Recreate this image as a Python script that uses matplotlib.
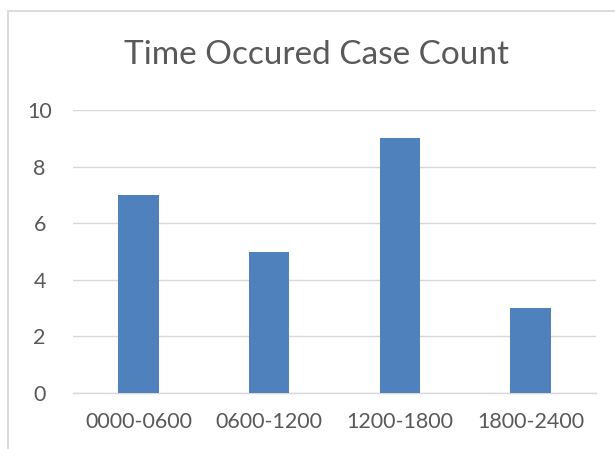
import matplotlib.pyplot as plt
from matplotlib.patches import Rectangle

categories = ["0000-0600", "0600-1200", "1200-1800", "1800-2400"]
counts = [7, 5, 9, 3]

plt.rcParams["font.family"] = ["Lato", "DejaVu Sans"]

fig = plt.figure(figsize=(6.15, 4.49), dpi=100)
W, H = 615, 449

# chart border (right/bottom edges run off the image)
fig.patches.append(Rectangle((8 / W, -0.1), 1.2, 1 - 11 / H + 0.1,
                             transform=fig.transFigure, fill=False,
                             edgecolor="#D9D9D9", linewidth=1.3))

ax = fig.add_axes([73 / W, 1 - 393 / H, (596 - 73) / W, (393 - 110) / H])
x = range(len(categories))
ax.bar(x, counts, width=0.31, color="#4F81BD", zorder=3)

ax.set_xlim(-0.5, 3.5)
ax.set_ylim(0, 10)
ax.set_yticks(range(0, 11, 2))
ax.set_xticks(list(x))
ax.set_xticklabels(categories)
ax.yaxis.grid(True, color="#D9D9D9", linewidth=1)
for s in ["top", "right", "left"]:
    ax.spines[s].set_visible(False)
ax.spines["bottom"].set_color("#D9D9D9")
ax.spines["bottom"].set_linewidth(1)
ax.tick_params(axis="both", length=0, colors="#595959", labelsize=15.5)
ax.tick_params(axis="y", pad=24)
ax.tick_params(axis="x", pad=14)
for lbl in ax.get_yticklabels():
    lbl.set_horizontalalignment("center")

fig.text(316 / W, 1 - 55 / H, "Time Occured Case Count", ha="center",
         va="center", fontsize=24, color="#595959")

fig.savefig("out.png", dpi=100)
